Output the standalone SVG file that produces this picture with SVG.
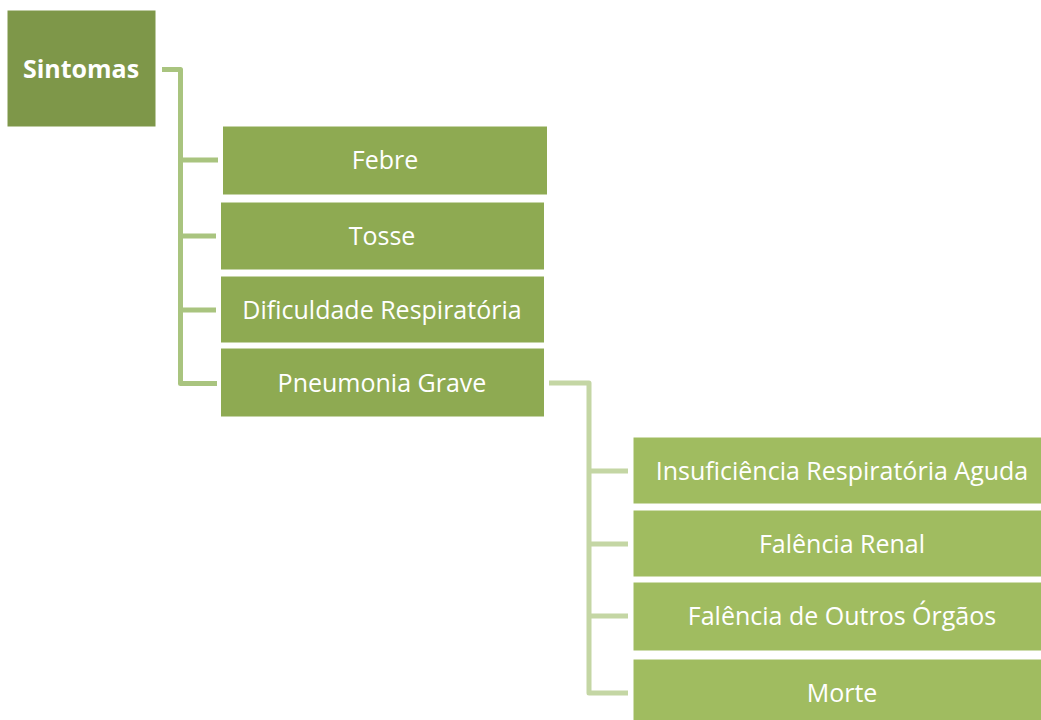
<svg xmlns="http://www.w3.org/2000/svg" width="1041" height="720" viewBox="0 0 1041 720">
<style>
.t{font-family:"Open Sans","Noto Sans","Liberation Sans",sans-serif;font-size:25px;fill:#fff;text-anchor:middle}
.b{font-weight:bold}
.c1{fill:none;stroke:#a9c47f;stroke-width:5;stroke-linejoin:round}
.c2{fill:none;stroke:#c4d6a4;stroke-width:5;stroke-linejoin:round}
.n0{fill:#7e9749;stroke:#fff;stroke-width:1}
.n1{fill:#8eaa52;stroke:#fff;stroke-width:1}
.n2{fill:#a0bc60;stroke:#fff;stroke-width:1}
</style>
<rect width="1041" height="720" fill="#fff"/>
<g id="connectors">
<path class="c1" d="M162 69.5H180.5V383.5H217M180.5 160H218M180.5 236H216M180.5 310H216"/>
<path class="c2" d="M549 383H589V693H628M589 471H628M589 544H628M589 616H628"/>
</g>
<g id="sintomas"><rect class="n0" x="7" y="10" width="149" height="117"/><text class="t b" x="81" y="78">Sintomas</text></g>
<g id="febre"><rect class="n1" x="222.5" y="126" width="325" height="69"/><text class="t" x="385" y="169">Febre</text></g>
<g id="tosse"><rect class="n1" x="220.5" y="202" width="324" height="68"/><text class="t" x="382" y="245">Tosse</text></g>
<g id="dificuldade"><rect class="n1" x="220.5" y="276" width="324" height="67"/><text class="t" x="382" y="319">Dificuldade Respiratória</text></g>
<g id="pneumonia"><rect class="n1" x="220.5" y="348" width="324" height="69"/><text class="t" x="382" y="392">Pneumonia Grave</text></g>
<g id="insuficiencia"><rect class="n2" x="633" y="437" width="420" height="67"/><text class="t" x="842" y="480">Insuficiência Respiratória Aguda</text></g>
<g id="renal"><rect class="n2" x="633" y="510" width="420" height="67"/><text class="t" x="842" y="553">Falência Renal</text></g>
<g id="outros"><rect class="n2" x="633" y="582" width="420" height="69"/><text class="t" x="842" y="625">Falência de Outros Órgãos</text></g>
<g id="morte"><rect class="n2" x="633" y="659" width="420" height="70"/><text class="t" x="842" y="702">Morte</text></g>
</svg>
